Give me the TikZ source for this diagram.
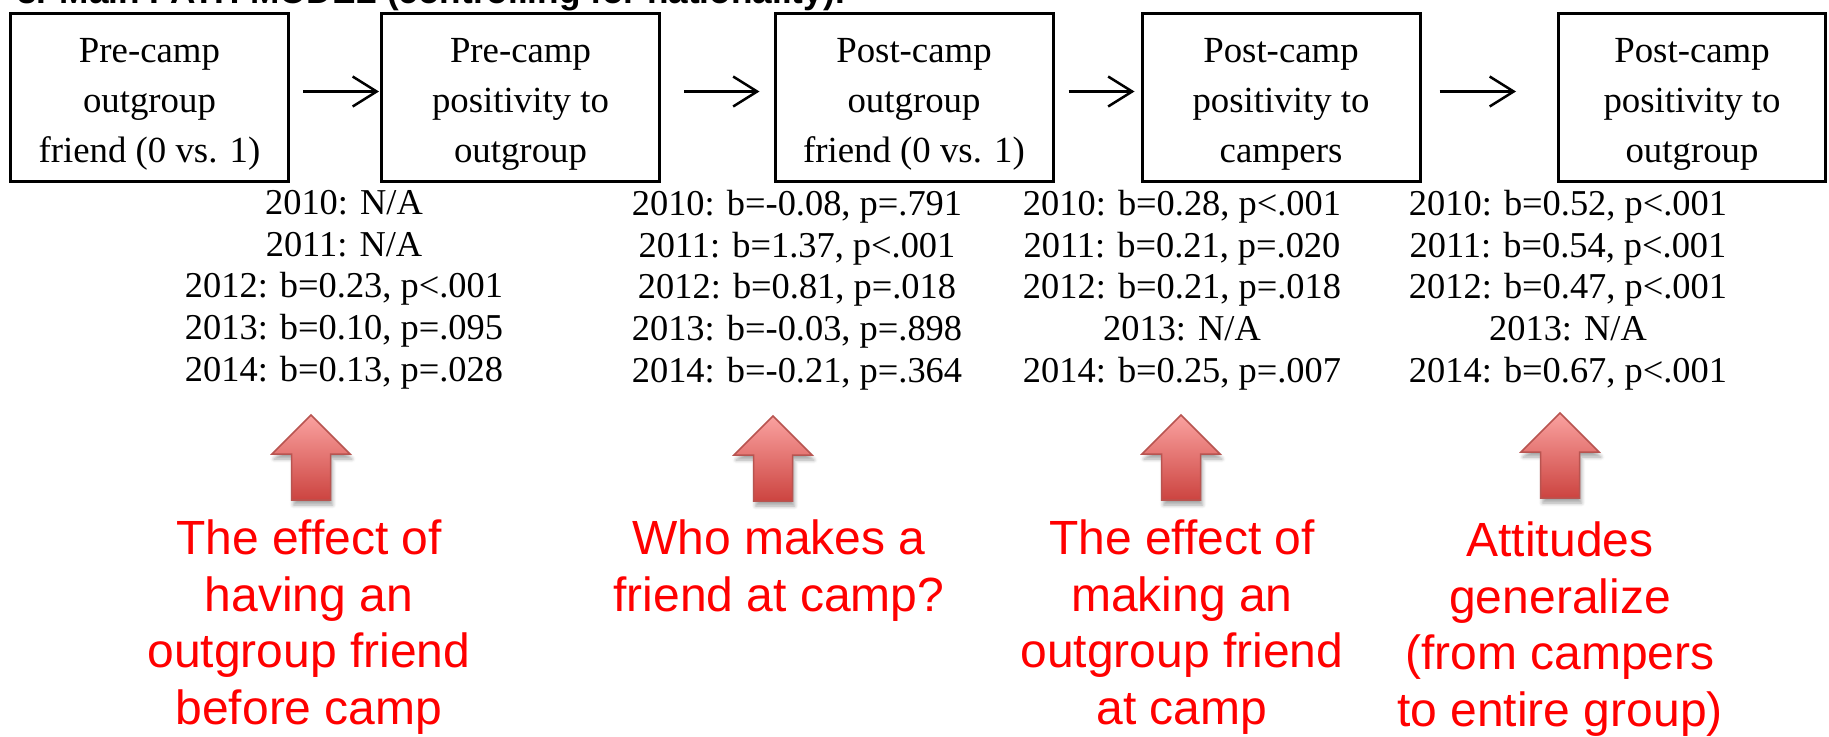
\documentclass[tikz,border=0pt]{standalone}
\usepackage{fontspec}
\setmainfont{Liberation Serif}
\newfontfamily\arialfont{Liberation Sans}
\usetikzlibrary{arrows.meta,calc,shadows.blur}

\definecolor{alertred}{RGB}{255,0,0}
\definecolor{arrowtop}{RGB}{250,162,160}
\definecolor{arrowbot}{RGB}{204,68,64}
\definecolor{arrowedge}{RGB}{184,84,80}

% invisible strut that lowers the three-line box labels a little
\newcommand\labelstrut{\rule{0pt}{18.8pt}}

\tikzset{
  pics/upblock/.style={code={
    \path[draw=arrowedge, line width=0.75pt, top color=arrowtop, bottom color=arrowbot,
          blur shadow={shadow xshift=1pt, shadow yshift=-2.5pt, shadow opacity=35, shadow blur steps=6}]
      (0,0) -- (39,39) -- (19.5,39) -- (19.5,85) -- (-19.5,85) -- (-19.5,39) -- (-39,39) -- cycle;
  }}
}

\begin{document}
\begin{tikzpicture}[x=0.5pt, y=-0.5pt,
  varbox/.style={draw=black, line width=1.5pt, minimum width=139pt, minimum height=84pt,
                 inner sep=0pt, align=center, font=\fontsize{18.4}{25}\selectfont},
  link/.style={line width=1.25pt, -{Straight Barb[length=12pt,width=15pt]}},
  stats/.style={anchor=north, inner sep=0pt, align=center, font=\fontsize{18.2}{20.8}\selectfont},
  note/.style={anchor=north, inner sep=0pt, align=center, text=alertred,
               font=\arialfont\fontsize{24}{28.4}\selectfont},
  heading/.style={anchor=base west, inner sep=0pt, font=\arialfont\bfseries\fontsize{17.6}{20}\selectfont}
]
\useasboundingbox (0,0) rectangle (1829,736);

% heading line (its upper part lies above the page)
\node[heading] (title) at (17,3) {3. Main PATH MODEL (controlling for nationality):};

% the five variables of the path model
\node[varbox] (b1) at (149.5,97.5) {\labelstrut Pre-camp\\outgroup\\friend (0 vs. 1)};
\node[varbox] (b2) at (520.5,97.5) {\labelstrut Pre-camp\\positivity to\\outgroup};
\node[varbox] (b3) at (914,97.5)   {\labelstrut Post-camp\\outgroup\\friend (0 vs. 1)};
\node[varbox] (b4) at (1281,97.5)  {\labelstrut Post-camp\\positivity to\\campers};
\node[varbox, minimum width=133.5pt] (b5) at (1692,97.5) {\labelstrut Post-camp\\positivity to\\outgroup};

% paths
\draw[link, shorten <=6.5pt, shorten >=0.5pt] ($(b1.east)+(0,-6)$) -- ($(b2.west)+(0,-6)$);
\draw[link, shorten <=11.5pt, shorten >=7pt] ($(b2.east)+(0,-6)$) -- ($(b3.west)+(0,-6)$);
\draw[link, shorten <=7pt, shorten >=3pt]    ($(b3.east)+(0,-6)$) -- ($(b4.west)+(0,-6)$);
\draw[link, shorten <=9pt, shorten >=20.5pt] ($(b4.east)+(0,-6)$) -- ($(b5.west)+(0,-6)$);

% coefficients per year
\node[stats] (s1) at (344,190) {2010: N/A\\2011: N/A\\2012: b=0.23, p<.001\\2013: b=0.10, p=.095\\2014: b=0.13, p=.028};
\node[stats] (s2) at (797,190) {2010: b=-0.08, p=.791\\2011: b=1.37, p<.001\\2012: b=0.81, p=.018\\2013: b=-0.03, p=.898\\2014: b=-0.21, p=.364};
\node[stats] (s3) at (1182,190) {2010: b=0.28, p<.001\\2011: b=0.21, p=.020\\2012: b=0.21, p=.018\\2013: N/A\\2014: b=0.25, p=.007};
\node[stats] (s4) at (1568,190) {2010: b=0.52, p<.001\\2011: b=0.54, p<.001\\2012: b=0.47, p<.001\\2013: N/A\\2014: b=0.67, p<.001};

% pointer arrows
\pic at (311,415) {upblock};
\pic at (773,416) {upblock};
\pic at (1181,415) {upblock};
\pic at (1560,413) {upblock};

% interpretations
\node[note] (n1) at (309,519) {The effect of\\having an\\outgroup friend\\before camp};
\node[note] (n2) at (779,519) {Who makes a\\friend at camp?};
\node[note] (n3) at (1182,519) {The effect of\\making an\\outgroup friend\\at camp};
\node[note] (n4) at (1560,521) {Attitudes\\generalize\\(from campers\\to entire group)};
\end{tikzpicture}
\end{document}
